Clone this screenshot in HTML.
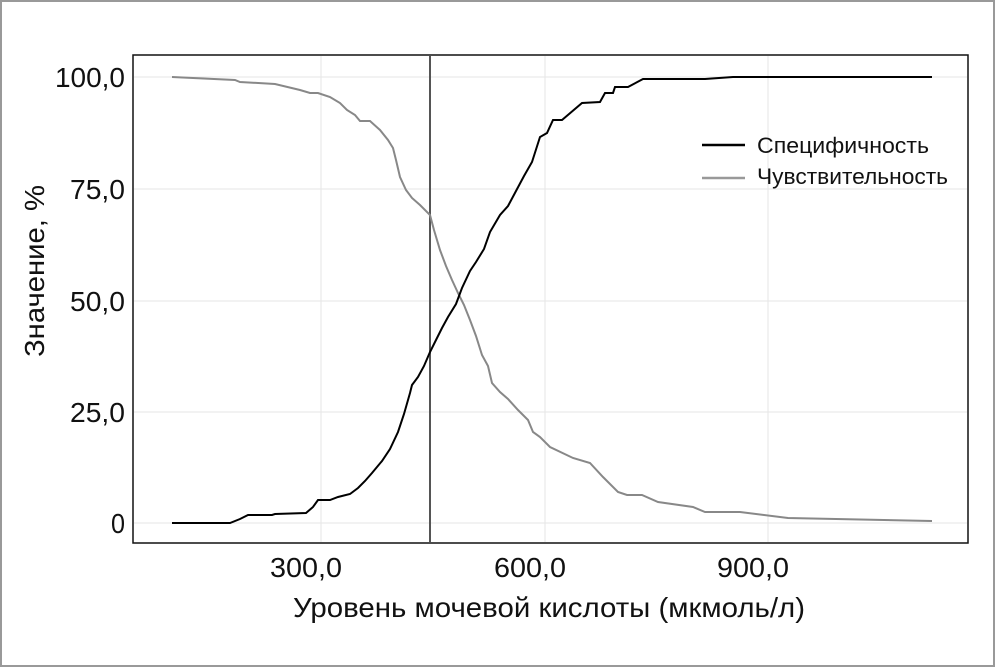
<!DOCTYPE html>
<html><head><meta charset="utf-8"><style>
body{margin:0;background:#fff}
svg{display:block}
text{font-family:"Liberation Sans",sans-serif;fill:#111}
</style></head><body>
<svg width="995" height="667" xmlns="http://www.w3.org/2000/svg">
<rect x="1" y="1" width="993" height="665" fill="#fff" stroke="#999" stroke-width="2"/>
<g stroke="#e6e6e6" stroke-width="1">
<line x1="134" x2="967" y1="77" y2="77"/><line x1="134" x2="967" y1="189" y2="189"/>
<line x1="134" x2="967" y1="301" y2="301"/><line x1="134" x2="967" y1="412" y2="412"/>
<line x1="134" x2="967" y1="523" y2="523"/>
<line x1="321" x2="321" y1="56" y2="542"/><line x1="545" x2="545" y1="56" y2="542"/><line x1="768" x2="768" y1="56" y2="542"/>
</g>
<line x1="430" x2="430" y1="56" y2="542" stroke="#555" stroke-width="2"/>
<polyline fill="none" stroke="#888" stroke-width="2" points="172,77 235,80 240,82 275,84 300,90 310,93 318,93 330,97 340,103 347,110 355,115 360,121 370,121 380,130 388,140 393,148 396,160 400,177 406,190 412,198 420,205 430,215 434,230 440,250 446,266 452,280 458,293 464,305 470,320 476,336 482,355 488,366 492,383 500,392 508,399 518,410 528,420 533,432 540,437 550,447 573,458 590,463 603,477 618,492 627,495 642,495 658,502 693,507 705,512 740,512 788,518 932,521"/>
<polyline fill="none" stroke="#000" stroke-width="2" points="172,523 230,523 240,519 248,515 272,515 275,514 306,513 313,507 318,500 330,500 338,497 350,494 358,488 365,481 372,473 382,461 390,449 398,432 404,414 410,393 412,385 418,377 424,366 430,352 436,340 442,328 448,317 456,304 462,288 470,271 476,262 484,249 490,232 500,215 508,206 516,191 524,176 532,162 540,137 547,133 553,120 562,120 582,103 600,102 605,93 613,93 615,87 628,87 643,79 705,79 733,77 932,77"/>
<rect x="133" y="55" width="835" height="488" fill="none" stroke="#111" stroke-width="1.5"/>
<g font-size="28" text-anchor="end">
<text x="125" y="87" textLength="70" lengthAdjust="spacingAndGlyphs">100,0</text>
<text x="125" y="199" textLength="55" lengthAdjust="spacingAndGlyphs">75,0</text>
<text x="125" y="311" textLength="55" lengthAdjust="spacingAndGlyphs">50,0</text>
<text x="125" y="422" textLength="55" lengthAdjust="spacingAndGlyphs">25,0</text>
<text x="125" y="533" textLength="14" lengthAdjust="spacingAndGlyphs">0</text>
</g>
<g font-size="28">
<text x="270" y="577" textLength="72" lengthAdjust="spacingAndGlyphs">300,0</text>
<text x="494" y="577" textLength="72" lengthAdjust="spacingAndGlyphs">600,0</text>
<text x="717" y="577" textLength="72" lengthAdjust="spacingAndGlyphs">900,0</text>
<text x="293" y="617" textLength="512" lengthAdjust="spacingAndGlyphs">Уровень мочевой кислоты (мкмоль/л)</text>
<text transform="translate(44,357) rotate(-90)" textLength="172" lengthAdjust="spacingAndGlyphs">Значение, %</text>
</g>
<line x1="702" x2="745" y1="145" y2="145" stroke="#000" stroke-width="2.5"/>
<line x1="702" x2="745" y1="178" y2="178" stroke="#999" stroke-width="2.5"/>
<text x="757" y="153" font-size="22" textLength="172" lengthAdjust="spacingAndGlyphs">Специфичность</text>
<text x="757" y="184" font-size="22" textLength="191" lengthAdjust="spacingAndGlyphs">Чувствительность</text>
</svg>
</body></html>
